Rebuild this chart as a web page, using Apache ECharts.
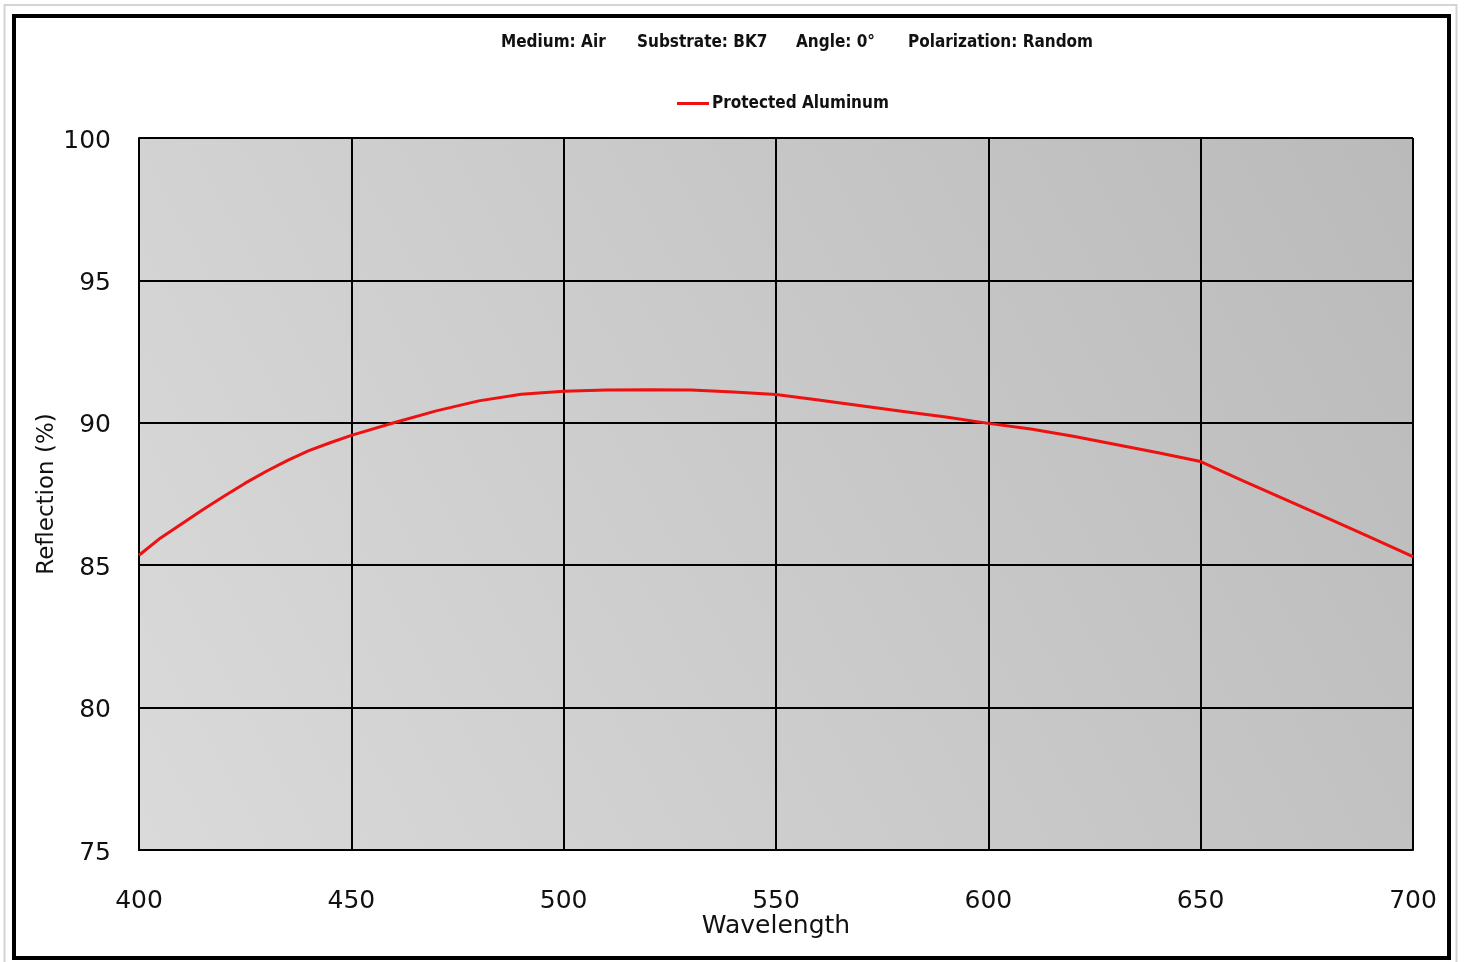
<!DOCTYPE html>
<html>
<head>
<meta charset="utf-8">
<script src="https://cdn.jsdelivr.net/npm/echarts@6/dist/echarts.min.js"></script>
<style>
html,body{margin:0;padding:0;background:#fff;}
#chart{width:1464px;height:962px;}
</style>
</head>
<body>
<div id="chart"></div>
<script>
const wavelengths = [400,405,410,415,420,425,430,435,440,445,450,460,470,480,490,500,510,520,530,540,550,560,570,580,590,600,610,620,630,640,650,660,670,680,690,700];
const reflection = [85.35,85.95,86.45,86.95,87.42,87.88,88.3,88.68,89.02,89.3,89.56,90.0,90.42,90.77,91.0,91.11,91.15,91.16,91.15,91.08,90.99,90.8,90.6,90.4,90.2,89.98,89.78,89.53,89.24,88.95,88.64,87.96,87.3,86.64,85.98,85.3];
const seriesName = 'Protected Aluminum';
const headerTexts = ['Medium: Air', 'Substrate: BK7', 'Angle: 0\u00B0', 'Polarization: Random'];
const xTicks = {min: 400, max: 700, interval: 50};
const yTicks = {min: 75, max: 100, interval: 5};
const xName = 'Wavelength';
const yName = 'Reflection (%)';

const headerX = [501, 637, 796, 908];
const chart = echarts.init(document.getElementById('chart'));
const tickFont = 'DejaVu Sans';
const boldFont = 'DejaVu Sans Condensed, DejaVu Sans';

const option = {
  animation: false,
  backgroundColor: '#ffffff',
  graphic: [
    {type:'rect', shape:{x:4.5, y:5, width:1452, height:965}, style:{fill:'none', stroke:'#d4d4d4', lineWidth:2}, z:100},
    {type:'rect', shape:{x:14, y:16, width:1435, height:942}, style:{fill:'none', stroke:'#000', lineWidth:4}, z:100}
  ].concat(headerTexts.map((t,i)=>({
    type:'text', x: headerX[i], y: 43,
    style:{text:t, fill:'#111', font:'bold 17px ' + boldFont, textVerticalAlign:'middle', textAlign:'left'}
  }))),
  legend: {
    data: [seriesName],
    left: 672, top: 90,
    icon: 'rect', itemWidth: 32, itemHeight: 3, itemGap: 4,
    textStyle: {fontFamily: boldFont, fontWeight: 'bold', fontSize: 17, color: '#111', padding:[0,0,0,-2]}
  },
  grid: {
    left: 139, top: 138, right: 51, bottom: 112,
    show: true, borderWidth: 0,
    backgroundColor: new echarts.graphic.LinearGradient(0, 1, 1, 0, [
      {offset: 0, color: '#dadada'},
      {offset: 1, color: '#bababa'}
    ])
  },
  xAxis: {
    type: 'value', min: xTicks.min, max: xTicks.max, interval: xTicks.interval,
    name: xName, nameLocation: 'middle', nameGap: 64, nameMoveOverlap: false,
    nameTextStyle: {fontFamily: tickFont, fontSize: 25, color: '#111', letterSpacing: 1},
    axisLine: {show: true, onZero: false, lineStyle: {color: '#000', width: 2}},
    axisTick: {show: false},
    axisLabel: {fontFamily: tickFont, fontSize: 25, color: '#111', margin: 39},
    splitLine: {show: true, lineStyle: {color: '#000', width: 2}}
  },
  yAxis: {
    type: 'value', min: yTicks.min, max: yTicks.max, interval: yTicks.interval,
    name: yName, nameLocation: 'middle', nameGap: 80, nameRotate: 90, nameMoveOverlap: false,
    nameTextStyle: {fontFamily: tickFont, fontSize: 23, color: '#111'},
    axisLine: {show: true, lineStyle: {color: '#000', width: 2}},
    axisTick: {show: false},
    axisLabel: {
      fontFamily: tickFont, fontSize: 25, color: '#111', margin: 28,
      formatter: '{a|{value}}',
      rich: {a: {fontFamily: tickFont, fontSize: 25, color: '#111', padding: [6,0,0,0]}}
    },
    splitLine: {show: true, lineStyle: {color: '#000', width: 2}}
  },
  series: [{
    name: seriesName,
    type: 'line',
    data: wavelengths.map((w,i)=>[w, reflection[i]]),
    showSymbol: false,
    smooth: false,
    lineStyle: {color: '#ee1111', width: 3},
    itemStyle: {color: '#ee1111'}
  }]
};
chart.setOption(option);
</script>
</body>
</html>
